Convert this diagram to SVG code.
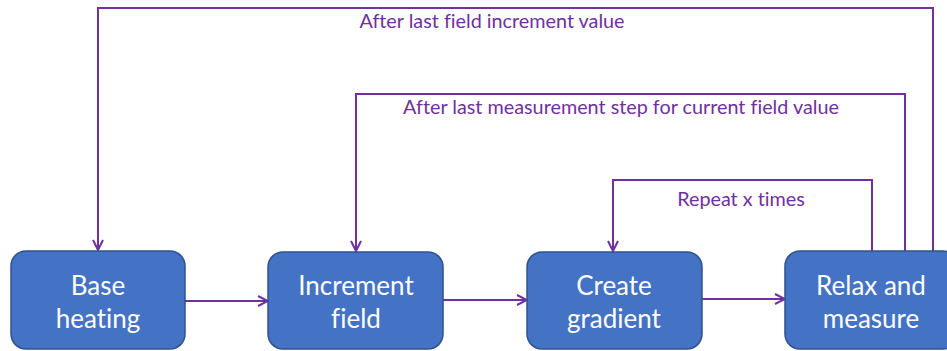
<svg xmlns="http://www.w3.org/2000/svg" width="947" height="351" viewBox="0 0 947 351">
<defs>
<style>
.node rect{fill:#4472C4;stroke:#2F528F;stroke-width:1.5}
.node text{fill:#FFFFFF;font-family:Lato,"Liberation Sans",sans-serif;font-size:26px;text-anchor:middle;font-variant-ligatures:none}
.conn path{fill:none;stroke:#7030A0;stroke-width:2}
.lbl{fill:#7030A0;font-family:Lato,"Liberation Sans",sans-serif;font-size:19.8px;text-anchor:middle;font-variant-ligatures:none}
</style>
<marker id="arr" viewBox="0 0 12 12" refX="11" refY="6" markerWidth="12" markerHeight="12" markerUnits="userSpaceOnUse" orient="auto">
<path d="M1,1 L11,6 L1,11" fill="none" stroke="#7030A0" stroke-width="2"/>
</marker>
</defs>
<rect width="947" height="351" fill="#FFFFFF"/>
<g class="conn">
<path d="M933,251 V8 H98 V250" marker-end="url(#arr)"/>
<path d="M905,251 V94 H356 V251" marker-end="url(#arr)"/>
<path d="M872,251 V180 H613 V251" marker-end="url(#arr)"/>
<path d="M185,301 H268" marker-end="url(#arr)"/>
<path d="M443,300 H527" marker-end="url(#arr)"/>
<path d="M702,299 H785" marker-end="url(#arr)"/>
</g>
<text class="lbl" x="492" y="28">After last field increment value</text>
<text class="lbl" x="621" y="114">After last measurement step for current field value</text>
<text class="lbl" x="741" y="206">Repeat x times</text>
<g id="base-heating" class="node">
<rect x="11" y="251" width="174" height="98" rx="15"/>
<text x="98" y="295">Base</text>
<text x="98" y="328">heating</text>
</g>
<g id="increment-field" class="node">
<rect x="268" y="252" width="175" height="97" rx="15"/>
<text x="356" y="295">Increment</text>
<text x="356" y="328">field</text>
</g>
<g id="create-gradient" class="node">
<rect x="527" y="252" width="175" height="97" rx="15"/>
<text x="614" y="295">Create</text>
<text x="614" y="328">gradient</text>
</g>
<g id="relax-and-measure" class="node">
<rect x="785" y="251" width="173" height="98" rx="15"/>
<text x="871" y="295">Relax and</text>
<text x="871" y="328">measure</text>
</g>
</svg>
